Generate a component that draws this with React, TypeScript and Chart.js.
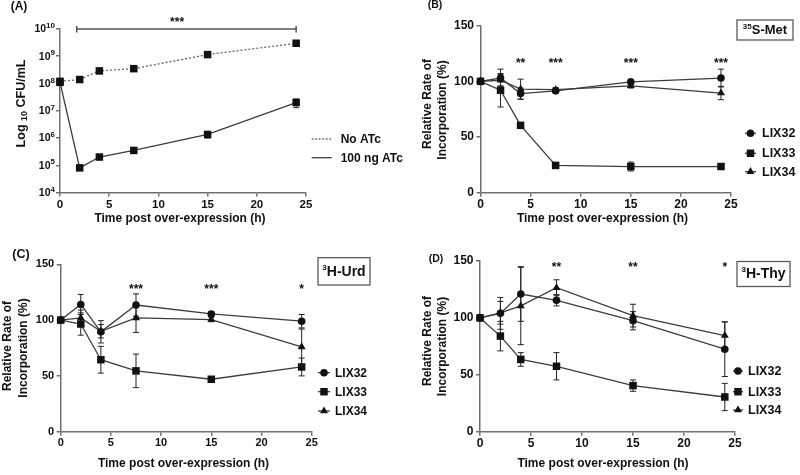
import React, { useEffect, useRef } from "react";
import { Chart, registerables } from "chart.js";

Chart.register(...registerables);

// ---------------- data ----------------
const TIMES = [0, 2, 4, 7.5, 15, 24];
const X_TICKS = [0, 5, 10, 15, 20, 25];
const PCT_TICKS = [0, 50, 100, 150];
const X_TITLE = "Time post over-expression (h)";
const Y_TITLE_1 = "Relative Rate of";
const Y_TITLE_2 = "Incorporation (%)";

// Panel A
const A_Y_EXPONENTS = [4, 5, 6, 7, 8, 9, 10];
const A_SERIES = ["No ATc", "100 ng ATc"];
const A_NO_ATC = [1.2e8, 1.4e8, 2.9e8, 3.5e8, 1.15e9, 3.0e9];
const A_NO_ATC_ERR = [0.15e8, 0.2e8, 0.6e8, 0.4e8, 0.15e9, 0.3e9];
const A_ATC_100 = [1.1e8, 8e4, 2.0e5, 3.5e5, 1.35e6, 2.0e7];
const A_ATC_100_ERR = [0.2e8, 0.8e4, 0.2e5, 0.4e5, 0.35e6, 0.7e7];
const A_SIG_RANGE = [1.7, 24];
const A_SIG_LEVEL = 1e10;
const A_SIG_STAR_X = 11.9;
const A_SIG_LABEL = "***";

// Panels B–D
const LIX_SERIES = ["LIX32", "LIX33", "LIX34"];

const B_LIX32 = [100, 103, 89, 91.5, 99.5, 103];
const B_LIX32_ERR = [0, 8, 5, 2, 2, 8];
const B_LIX33 = [100, 92, 60.5, 24.5, 23.5, 23.5];
const B_LIX33_ERR = [0, 15, 2, 1, 4, 1];
const B_LIX34 = [100, 101, 93, 92.5, 96, 89.5];
const B_LIX34_ERR = [0, 5, 9, 2, 2, 6];
const B_SIG_TIMES = [4, 7.5, 15, 24];
const B_SIG_LABELS = ["**", "***", "***", "***"];
const B_SIG_LEVEL = 119;

const C_LIX32 = [100, 114, 89.5, 113.5, 105.5, 99];
const C_LIX32_ERR = [0, 9, 10, 10, 2, 6];
const C_LIX33 = [100, 96.5, 64.5, 54.5, 47, 58];
const C_LIX33_ERR = [0, 10, 12, 15, 1, 8];
const C_LIX34 = [100, 102, 90, 102, 100.5, 76];
const C_LIX34_ERR = [0, 7, 6, 13, 2, 16];
const C_SIG_TIMES = [7.5, 15, 24];
const C_SIG_LABELS = ["***", "***", "*"];
const C_SIG_LEVEL = 130.8;

const D_LIX32 = [100, 104, 121, 115.5, 97.5, 72.5];
const D_LIX32_ERR = [0, 14, 24, 5, 8, 24];
const D_LIX33 = [100, 84, 63.5, 57.5, 40.5, 30.5];
const D_LIX33_ERR = [0, 13, 6, 12, 5, 12];
const D_LIX34 = [100, 104.5, 110.5, 126.5, 102, 84.5];
const D_LIX34_ERR = [0, 10, 34, 7, 10, 12];
const D_SIG_TIMES = [7.5, 15, 24];
const D_SIG_LABELS = ["**", "**", "*"];
const D_SIG_LEVEL = 147;

// ---------------- styling helpers ----------------
const FAMILY = "'Liberation Sans', Arial, Helvetica, sans-serif";
const f = (size: number, weight = "bold") => `${weight} ${size}px ${FAMILY}`;
const TEXT = "#111";
const LINE = "#3c3c3c";
const MARK = "#111";
const AXIS = "#707070";
const YW = 40;
const XH = 30;

type Part = { t: string; size: number; dy?: number };

function drawParts(ctx: CanvasRenderingContext2D, parts: Part[], x: number, y: number, align: "left" | "center" | "right") {
  const widths = parts.map((p) => {
    ctx.font = f(p.size);
    return ctx.measureText(p.t).width;
  });
  const total = widths.reduce((a, b) => a + b, 0);
  let cur = align === "left" ? x : align === "center" ? x - total / 2 : x - total;
  ctx.textAlign = "left";
  ctx.textBaseline = "middle";
  parts.forEach((p, i) => {
    ctx.font = f(p.size);
    ctx.fillText(p.t, cur, y + (p.dy ?? 0));
    cur += widths[i];
  });
}

function drawVParts(ctx: CanvasRenderingContext2D, parts: Part[], cx: number, cy: number) {
  ctx.save();
  ctx.translate(cx, cy);
  ctx.rotate(-Math.PI / 2);
  drawParts(ctx, parts, 0, 0, "center");
  ctx.restore();
}

function drawMarker(ctx: CanvasRenderingContext2D, style: string, x: number, y: number, r: number) {
  ctx.save();
  ctx.fillStyle = MARK;
  ctx.beginPath();
  if (style === "circle") {
    ctx.arc(x, y, r, 0, Math.PI * 2);
  } else if (style === "rect") {
    const s = r * Math.SQRT1_2;
    ctx.rect(x - s, y - s, 2 * s, 2 * s);
  } else {
    let a = 0;
    ctx.moveTo(x + Math.sin(a) * r, y - Math.cos(a) * r);
    a += (2 * Math.PI) / 3;
    ctx.lineTo(x + Math.sin(a) * r, y - Math.cos(a) * r);
    a += (2 * Math.PI) / 3;
    ctx.lineTo(x + Math.sin(a) * r, y - Math.cos(a) * r);
    ctx.closePath();
  }
  ctx.fill();
  ctx.restore();
}

function legendRow(
  ctx: CanvasRenderingContext2D,
  x1: number,
  x2: number,
  y: number,
  style: string | null,
  r: number,
  label: string,
  tx: number,
  size: number,
  dash?: number[],
  color = LINE
) {
  ctx.save();
  ctx.strokeStyle = color;
  ctx.lineWidth = 1.3;
  if (dash) ctx.setLineDash(dash);
  ctx.beginPath();
  ctx.moveTo(x1, y);
  ctx.lineTo(x2, y);
  ctx.stroke();
  ctx.restore();
  if (style) drawMarker(ctx, style, (x1 + x2) / 2, y, r);
  ctx.fillStyle = TEXT;
  drawParts(ctx, [{ t: label, size }], tx, y + 0.5, "left");
}

function drawStars(ctx: CanvasRenderingContext2D, x: number, yCenter: number, label: string, size = 12) {
  ctx.save();
  ctx.fillStyle = TEXT;
  ctx.font = f(size);
  ctx.textAlign = "center";
  ctx.textBaseline = "alphabetic";
  ctx.fillText(label, x, yCenter + size * 0.58);
  ctx.restore();
}

function drawBox(ctx: CanvasRenderingContext2D, x: number, y: number, w: number, h: number, parts: Part[]) {
  ctx.save();
  ctx.strokeStyle = "#5a5a5a";
  ctx.lineWidth = 1.3;
  ctx.strokeRect(x, y, w, h);
  ctx.fillStyle = TEXT;
  drawParts(ctx, parts, x + w / 2, y + h / 2 + 0.5, "center");
  ctx.restore();
}

// error bars
const errorBarPlugin = {
  id: "errorBars",
  beforeDatasetsDraw(chart: any) {
    const ctx: CanvasRenderingContext2D = chart.ctx;
    const ys = chart.scales.y;
    chart.data.datasets.forEach((ds: any, di: number) => {
      const errs: number[] | undefined = ds.errors;
      if (!errs) return;
      const meta = chart.getDatasetMeta(di);
      meta.data.forEach((pt: any, i: number) => {
        const e = errs[i];
        if (!e) return;
        const v = ds.data[i].y;
        const y1 = ys.getPixelForValue(v + e);
        const y2 = ys.getPixelForValue(Math.max(v - e, ys.min * 1.0001));
        ctx.save();
        ctx.strokeStyle = "#222";
        ctx.lineWidth = 1;
        ctx.beginPath();
        ctx.moveTo(pt.x, y1);
        ctx.lineTo(pt.x, y2);
        ctx.moveTo(pt.x - 3, y1);
        ctx.lineTo(pt.x + 3, y1);
        ctx.moveTo(pt.x - 3, y2);
        ctx.lineTo(pt.x + 3, y2);
        ctx.stroke();
        ctx.restore();
      });
    });
  },
};

function series(label: string, values: number[], errors: number[], style: string, r: number, extra: any = {}) {
  return {
    label,
    data: TIMES.map((t, i) => ({ x: t, y: values[i] })),
    errors,
    borderColor: LINE,
    borderWidth: 1.3,
    pointStyle: style,
    pointRadius: r,
    pointBackgroundColor: MARK,
    pointBorderColor: MARK,
    pointBorderWidth: 0,
    clip: false,
    tension: 0,
    ...extra,
  };
}

type Area = { left: number; top: number; right: number; bottom: number };

function baseOptions(area: Area, W: number, H: number, tickSize: number, yScale: any) {
  const grid = { display: true, drawOnChartArea: false, drawTicks: true, tickLength: 4, color: AXIS, lineWidth: 1.5 };
  const border = { display: true, color: AXIS, width: 1.5 };
  return {
    responsive: false,
    maintainAspectRatio: false,
    animation: false,
    events: [],
    layout: {
      padding: { left: area.left - YW, top: area.top, right: W - area.right, bottom: H - area.bottom - XH },
    },
    plugins: { legend: { display: false }, tooltip: { enabled: false }, title: { display: false } },
    scales: {
      x: {
        type: "linear",
        min: 0,
        max: 25,
        afterBuildTicks: (s: any) => {
          s.ticks = X_TICKS.map((v) => ({ value: v }));
        },
        afterFit: (s: any) => {
          s.height = XH;
        },
        ticks: { font: { family: FAMILY, size: tickSize, weight: "bold" }, color: TEXT, padding: 1, maxRotation: 0 },
        grid,
        border,
      },
      y: {
        ...yScale,
        afterFit: (s: any) => {
          s.width = YW;
        },
        grid,
        border,
      },
    },
  };
}

function pctScale(tickSize: number) {
  return {
    type: "linear",
    min: 0,
    max: 150,
    afterBuildTicks: (s: any) => {
      s.ticks = PCT_TICKS.map((v) => ({ value: v }));
    },
    ticks: { font: { family: FAMILY, size: tickSize, weight: "bold" }, color: TEXT, padding: 2.5 },
  };
}

function lixDatasets(v32: number[], e32: number[], v33: number[], e33: number[], v34: number[], e34: number[]) {
  return [
    series(LIX_SERIES[0], v32, e32, "circle", 3.8),
    series(LIX_SERIES[1], v33, e33, "rect", 5.3),
    series(LIX_SERIES[2], v34, e34, "triangle", 4.6),
  ];
}

// ---------------- panel configs ----------------
const configA = () => {
  const area = { left: 60, top: 29, right: 306, bottom: 192.5 };
  const W = 410;
  const H = 237;
  return {
    type: "line",
    data: {
      datasets: [
        series(A_SERIES[0], A_NO_ATC, A_NO_ATC_ERR, "rect", 5.3, { borderDash: [2, 2], borderColor: "#666" }),
        series(A_SERIES[1], A_ATC_100, A_ATC_100_ERR, "rect", 5.3),
      ],
    },
    options: baseOptions(area, W, H, 11.5, {
      type: "logarithmic",
      min: 1e4,
      max: 1e10,
      afterBuildTicks: (s: any) => {
        s.ticks = A_Y_EXPONENTS.map((e) => ({ value: Math.pow(10, e) }));
      },
      ticks: { callback: () => "", padding: 2 },
    }),
    plugins: [
      errorBarPlugin,
      {
        id: "decoA",
        afterDraw(chart: any) {
          const ctx: CanvasRenderingContext2D = chart.ctx;
          const xs = chart.scales.x;
          const ys = chart.scales.y;
          ctx.save();
          ctx.fillStyle = TEXT;
          A_Y_EXPONENTS.forEach((e) => {
            const y = ys.getPixelForValue(Math.pow(10, e));
            drawParts(ctx, [{ t: "10", size: 10.5, dy: 0.5 }, { t: String(e), size: 8, dy: -3 }], chart.chartArea.left - 5, y, "right");
          });
          drawParts(ctx, [{ t: "(A)", size: 12 }], 19, 7, "center");
          drawVParts(ctx, [{ t: "Log ", size: 12.5 }, { t: "10", size: 9, dy: 3 }, { t: " CFU/mL", size: 12.5 }], 22, 103.5);
          drawParts(ctx, [{ t: X_TITLE, size: 12 }], 180, 218.5, "center");
          // significance bar
          const y0 = ys.getPixelForValue(A_SIG_LEVEL);
          const x1 = xs.getPixelForValue(A_SIG_RANGE[0]);
          const x2 = xs.getPixelForValue(A_SIG_RANGE[1]);
          ctx.strokeStyle = "#555";
          ctx.lineWidth = 1.5;
          ctx.beginPath();
          ctx.moveTo(x1, y0);
          ctx.lineTo(x2, y0);
          ctx.moveTo(x1, y0 - 3);
          ctx.lineTo(x1, y0 + 3.5);
          ctx.moveTo(x2, y0 - 3);
          ctx.lineTo(x2, y0 + 3.5);
          ctx.stroke();
          drawStars(ctx, xs.getPixelForValue(A_SIG_STAR_X), 19, A_SIG_LABEL);
          // legend
          legendRow(ctx, 311.7, 331.7, 139, null, 0, A_SERIES[0], 340.7, 12, [2, 1.5], "#777");
          legendRow(ctx, 311.7, 331.7, 157.7, null, 0, A_SERIES[1], 340.7, 12);
          ctx.restore();
        },
      },
    ],
  };
};

function lixDeco(
  id: string,
  letter: string,
  letterPos: [number, number],
  letterSize: number,
  y1: [number, number],
  y2: [number, number],
  xTitle: [number, number],
  titleSize: number,
  sigTimes: number[],
  sigLabels: string[],
  sigLevel: number,
  legend: { x1: number; x2: number; tx: number; ys: number[]; size: number },
  box: { x: number; y: number; w: number; h: number; parts: Part[] }
) {
  return {
    id,
    afterDraw(chart: any) {
      const ctx: CanvasRenderingContext2D = chart.ctx;
      const xs = chart.scales.x;
      const ys = chart.scales.y;
      ctx.save();
      ctx.fillStyle = TEXT;
      drawParts(ctx, [{ t: letter, size: letterSize }], letterPos[0], letterPos[1], "center");
      drawVParts(ctx, [{ t: Y_TITLE_1, size: titleSize }], y1[0], y1[1]);
      drawVParts(ctx, [{ t: Y_TITLE_2, size: titleSize }], y2[0], y2[1]);
      drawParts(ctx, [{ t: X_TITLE, size: titleSize }], xTitle[0], xTitle[1], "center");
      sigTimes.forEach((t, i) => drawStars(ctx, xs.getPixelForValue(t), ys.getPixelForValue(sigLevel), sigLabels[i]));
      const styles = ["circle", "rect", "triangle"];
      const radii = [3.8, 5.3, 4.6];
      LIX_SERIES.forEach((name, i) =>
        legendRow(ctx, legend.x1, legend.x2, legend.ys[i], styles[i], radii[i], name, legend.tx, legend.size)
      );
      drawBox(ctx, box.x, box.y, box.w, box.h, box.parts);
      ctx.restore();
    },
  };
}

const configB = () => {
  const area = { left: 80.5, top: 25.7, right: 331, bottom: 192.7 };
  return {
    type: "line",
    data: { datasets: lixDatasets(B_LIX32, B_LIX32_ERR, B_LIX33, B_LIX33_ERR, B_LIX34, B_LIX34_ERR) },
    options: baseOptions(area, 400, 237, 12, pctScale(12)),
    plugins: [
      errorBarPlugin,
      lixDeco(
        "decoB",
        "(B)",
        [35, 5],
        10.5,
        [27.5, 104],
        [43, 110],
        [202.5, 219],
        12,
        B_SIG_TIMES,
        B_SIG_LABELS,
        B_SIG_LEVEL,
        { x1: 345, x2: 356, tx: 362, ys: [133.3, 153.3, 171.7], size: 12.5 },
        { x: 337, y: 20, w: 56, h: 20, parts: [{ t: "35", size: 8, dy: -4 }, { t: "S-Met", size: 13 }] }
      ),
    ],
  };
};

const configC = () => {
  const area = { left: 60.7, top: 27.3, right: 311.7, bottom: 194.7 };
  return {
    type: "line",
    data: { datasets: lixDatasets(C_LIX32, C_LIX32_ERR, C_LIX33, C_LIX33_ERR, C_LIX34, C_LIX34_ERR) },
    options: baseOptions(area, 400, 238, 11, pctScale(11)),
    plugins: [
      errorBarPlugin,
      lixDeco(
        "decoC",
        "(C)",
        [21, 18],
        12.5,
        [8, 109],
        [24, 111],
        [183.5, 226.3],
        12,
        C_SIG_TIMES,
        C_SIG_LABELS,
        C_SIG_LEVEL,
        { x1: 318, x2: 330, tx: 335, ys: [135.7, 154.7, 174], size: 12 },
        { x: 318, y: 20.7, w: 52, h: 27.3, parts: [{ t: "3", size: 8, dy: -4.5 }, { t: "H-Urd", size: 14 }] }
      ),
    ],
  };
};

const configD = () => {
  const area = { left: 80, top: 24, right: 335, bottom: 194.7 };
  return {
    type: "line",
    data: { datasets: lixDatasets(D_LIX32, D_LIX32_ERR, D_LIX33, D_LIX33_ERR, D_LIX34, D_LIX34_ERR) },
    options: baseOptions(area, 400, 238, 12, pctScale(12)),
    plugins: [
      errorBarPlugin,
      lixDeco(
        "decoD",
        "(D)",
        [36, 22],
        10.5,
        [27.5, 104],
        [43, 109.5],
        [203, 226.3],
        12,
        D_SIG_TIMES,
        D_SIG_LABELS,
        D_SIG_LEVEL,
        { x1: 333, x2: 343, tx: 348, ys: [134, 154.7, 173], size: 12.5 },
        { x: 337, y: 24.5, w: 53, h: 25, parts: [{ t: "3", size: 8, dy: -4.5 }, { t: "H-Thy", size: 14 }] }
      ),
    ],
  };
};

// ---------------- components ----------------
function Panel(props: { left: number; top: number; width: number; height: number; config: () => any }) {
  const ref = useRef<HTMLCanvasElement>(null);
  useEffect(() => {
    const chart = new Chart(ref.current as HTMLCanvasElement, props.config());
    return () => chart.destroy();
  }, []);
  return (
    <canvas
      ref={ref}
      width={props.width}
      height={props.height}
      style={{ position: "absolute", left: props.left, top: props.top, width: props.width, height: props.height }}
    />
  );
}

export default function App() {
  return (
    <div style={{ position: "absolute", left: 0, top: 0, width: 800, height: 475, background: "#fff", overflow: "hidden" }}>
      <Panel left={0} top={0} width={410} height={237} config={configA} />
      <Panel left={400} top={0} width={400} height={237} config={configB} />
      <Panel left={0} top={237} width={400} height={238} config={configC} />
      <Panel left={400} top={237} width={400} height={238} config={configD} />
    </div>
  );
}
